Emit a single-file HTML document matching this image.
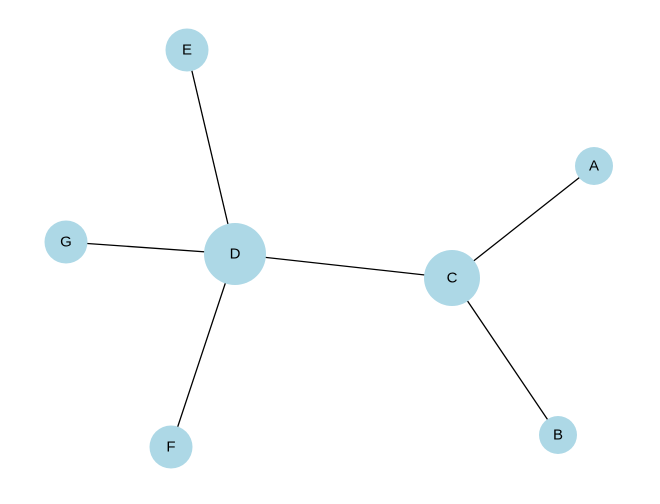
<!DOCTYPE html>
<html><head><style>body{margin:0;background:#fff}</style></head><body>
<svg width="660" height="499" xmlns="http://www.w3.org/2000/svg">
<g stroke="#000" stroke-width="1.3">
<line x1="187" y1="50" x2="235" y2="254"/>
<line x1="66" y1="242" x2="235" y2="254"/>
<line x1="171" y1="447" x2="235" y2="254"/>
<line x1="235" y1="254" x2="452" y2="278"/>
<line x1="452" y1="278" x2="594" y2="166"/>
<line x1="452" y1="278" x2="558" y2="435"/>
</g>
<g fill="#add8e6">
<circle cx="187" cy="50" r="21.5"/>
<circle cx="594" cy="166" r="19"/>
<circle cx="66" cy="242" r="21.5"/>
<circle cx="235" cy="254" r="31"/>
<circle cx="452" cy="278" r="28"/>
<circle cx="171" cy="447" r="21.5"/>
<circle cx="558" cy="435" r="19"/>
</g>
<g font-family="Liberation Sans, sans-serif" font-size="15" text-anchor="middle" dominant-baseline="central" fill="#000">
<text x="187" y="50">E</text>
<text x="594" y="166">A</text>
<text x="66" y="242">G</text>
<text x="235" y="254">D</text>
<text x="452" y="278">C</text>
<text x="171" y="447">F</text>
<text x="558" y="435">B</text>
</g>
</svg>
</body></html>
